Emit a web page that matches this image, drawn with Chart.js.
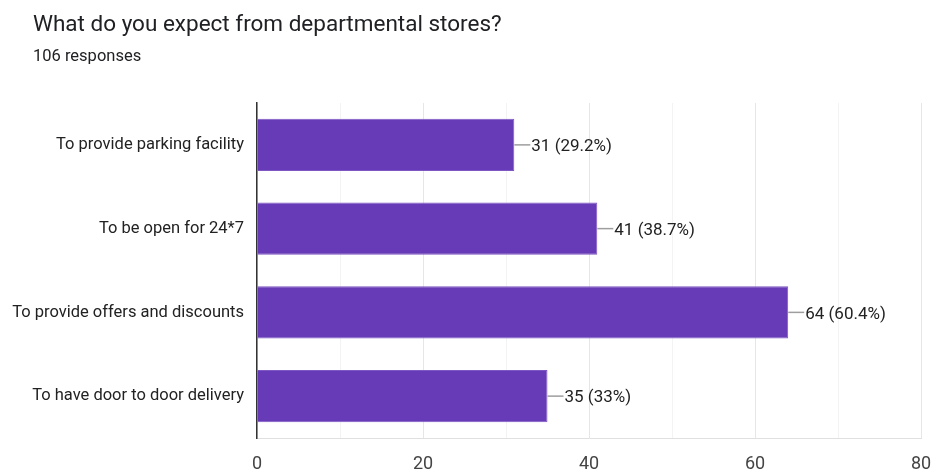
<!DOCTYPE html>
<html>
<head>
<meta charset="utf-8">
<script src="https://cdn.jsdelivr.net/npm/chart.js@4"></script>
<style>
  html, body { margin: 0; padding: 0; background: #fff; }
  #wrap { position: relative; width: 933px; height: 471px; font-family: Roboto, "Noto Sans", sans-serif; }
  #title { position: absolute; left: 33px; top: 10px; font-size: 22.5px; color: #202124; }
  #sub { position: absolute; left: 33px; top: 46px; font-size: 16.5px; color: #202124; }
  canvas { position: absolute; left: 0; top: 0; }
</style>
</head>
<body>
<div id="wrap">
  <canvas id="storeChart" width="933" height="471"></canvas>
  <div id="title">What do you expect from departmental stores?</div>
  <div id="sub">106 responses</div>
</div>
<script>
const TOTAL = 106;
const categories = [
  "To provide parking facility",
  "To be open for 24*7",
  "To provide offers and discounts",
  "To have door to door delivery"
];
const counts = [31, 41, 64, 35];
const xTicks = [0, 20, 40, 60, 80];

function pct(v) {
  return parseFloat((v / TOTAL * 100).toFixed(1)) + "%";
}

// value label with a short leader line at the end of each bar
const barLabels = {
  id: "barLabels",
  afterDatasetsDraw(chart) {
    const ctx = chart.ctx;
    const meta = chart.getDatasetMeta(0);
    ctx.save();
    ctx.font = "17px Roboto, 'Noto Sans', sans-serif";
    ctx.textBaseline = "middle";
    ctx.textAlign = "left";
    meta.data.forEach((bar, i) => {
      const v = counts[i];
      ctx.strokeStyle = "#9e9e9e";
      ctx.lineWidth = 1.5;
      ctx.beginPath();
      ctx.moveTo(bar.x, bar.y);
      ctx.lineTo(bar.x + 16, bar.y);
      ctx.stroke();
      ctx.fillStyle = "#222";
      ctx.fillText(v + " (" + pct(v) + ")", bar.x + 17, bar.y + 2);
    });
    ctx.restore();
  }
};

const ctx = document.getElementById("storeChart").getContext("2d");
const storeChart = new Chart(ctx, {
  type: "bar",
  data: {
    labels: categories,
    datasets: [{
      data: counts,
      backgroundColor: "#673ab7",
      borderColor: "#7e57c2",
      borderWidth: 1,
      barPercentage: 0.78,
      categoryPercentage: 0.8
    }]
  },
  plugins: [barLabels],
  options: {
    indexAxis: "y",
    responsive: false,
    animation: false,
    layout: { padding: { top: 103, right: 0, left: 0, bottom: 0 } },
    plugins: {
      legend: { display: false },
      tooltip: { enabled: false }
    },
    scales: {
      x: {
        min: 0,
        max: 80,
        afterFit(scale) {
          scale.height = 33;
          scale.paddingRight = 12;
        },
        afterBuildTicks(scale) {
          scale.ticks = [0, 10, 20, 30, 40, 50, 60, 70, 80].map(v => ({ value: v }));
        },
        ticks: {
          padding: 16,
          color: "#444",
          font: { family: "Roboto", size: 18 },
          callback: (v) => xTicks.includes(v) ? v : ""
        },
        grid: {
          drawTicks: false,
          color: (c) => (c.tick && c.tick.value % 20 === 0) ? "#e6e6e6" : "#f3f3f3"
        },
        border: { color: "#e0e0e0" }
      },
      y: {
        afterFit(scale) { scale.width = 257; },
        ticks: {
          padding: 13,
          color: "#222",
          font: { family: "Roboto", size: 16.5 }
        },
        grid: { display: false, drawTicks: false },
        border: { color: "#333", width: 1.5 }
      }
    }
  }
});
</script>
</body>
</html>
